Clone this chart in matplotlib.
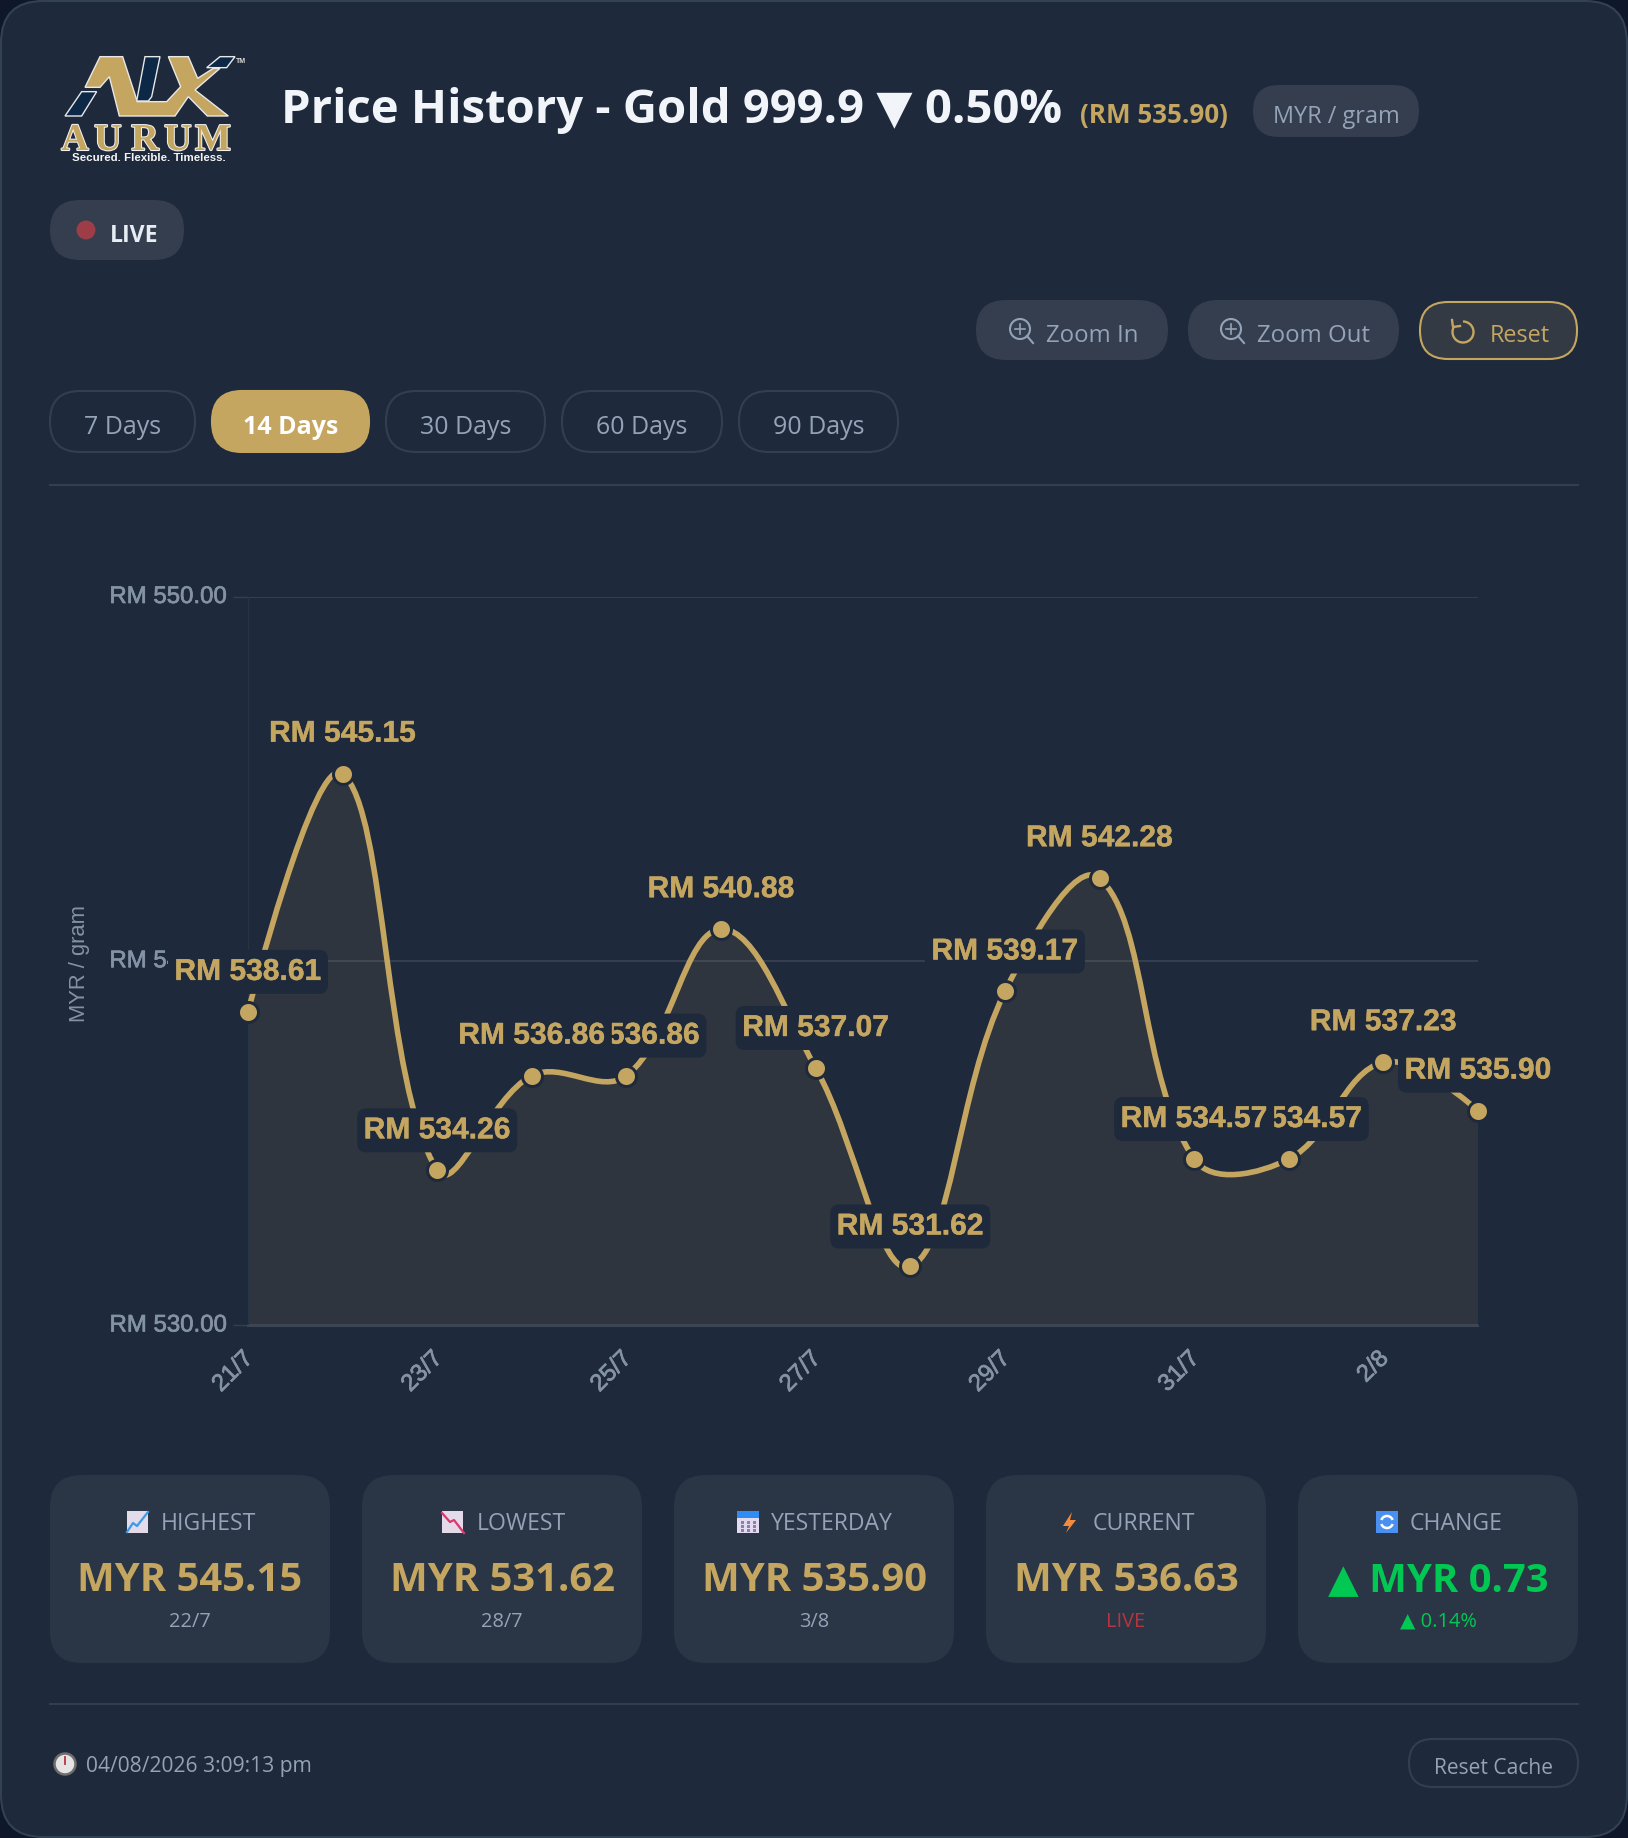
import math
import matplotlib
matplotlib.use("Agg")
import matplotlib.pyplot as plt
import matplotlib.patheffects as pe
import matplotlib.transforms as mtransforms
from matplotlib.patches import FancyBboxPatch, PathPatch, Polygon, Circle, Rectangle, Arc
from matplotlib.path import Path

dates = ["21/7", "22/7", "23/7", "24/7", "25/7", "26/7", "27/7", "28/7", "29/7", "30/7", "31/7", "1/8", "2/8", "3/8"]
prices = [538.61, 545.15, 534.26, 536.86, 536.86, 540.88, 537.07, 531.62, 539.17, 542.28, 534.57, 534.57, 537.23, 535.90]
y_ticks = [530, 540, 550]
tabs = ["7 Days", "14 Days", "30 Days", "60 Days", "90 Days"]
card_titles = ["HIGHEST", "LOWEST", "YESTERDAY", "CURRENT", "CHANGE"]
card_values = ["MYR 545.15", "MYR 531.62", "MYR 535.90", "MYR 536.63", "▲ MYR 0.73"]
card_subs = ["22/7", "28/7", "3/8", "LIVE", "▲ 0.14%"]

BG = "#1e293b"
CORNER = "#0f172a"
PILL = "#343e4f"
CARD = "#2a3545"
GOLD = "#c4a661"
MUTED = "#94a3b8"
AXIS_TEXT = "#8492a6"
WHITE = "#f1f5f9"
GREEN = "#00c853"
RED = "#b8343f"
UI_FONT = ["Open Sans", "DejaVu Sans"]


def px(n):
    return n * 0.72


fig = plt.figure(figsize=(16.28, 18.38), dpi=100, facecolor=CORNER)
ui = fig.add_axes([0, 0, 1, 1], zorder=1)
ui.set_xlim(0, 1628)
ui.set_ylim(1838, 0)
ui.axis("off")


def pill(x0, y0, x1, y1, r, fc, ec="none", lw=0, z=2):
    ui.add_patch(FancyBboxPatch((x0, y0), x1 - x0, y1 - y0, boxstyle=f"round,pad=0,rounding_size={r}",
                                fc=fc, ec=ec, lw=lw, zorder=z))


def label(x, y, s, size, color=MUTED, weight="normal", ha="center"):
    return ui.text(x, y, s, fontsize=px(size), color=color, fontweight=weight, ha=ha, va="baseline",
                   family=UI_FONT, zorder=5)


# panel
pill(1, 1, 1627, 1837, 42, BG, ec="#334155", lw=1.5, z=0)

# logo, drawn from rough outlines
def zoom_pts(pts):
    return [(x / 3 + 50, y / 3 + 45) for x, y in pts]


gold_shape = [(150, 35), (218, 35), (262, 170), (350, 170), (392, 125), (355, 35), (415, 35), (443, 100), (490, 70),
              (510, 70), (435, 135), (535, 213), (472, 213), (415, 155), (375, 213), (208, 213), (178, 95), (150, 127),
              (105, 127)]
navy_shapes = [[(285, 35), (330, 35), (305, 155), (295, 168), (260, 168)],
               [(95, 140), (140, 140), (95, 213), (45, 213)],
               [(510, 35), (555, 35), (530, 68), (470, 68)]]
ui.add_patch(Polygon(zoom_pts(gold_shape), fc=GOLD, ec="#e8e8e8", lw=1, zorder=3))
for shape in navy_shapes:
    ui.add_patch(Polygon(zoom_pts(shape), fc="#0d2847", ec="#e8e8e8", lw=1, zorder=3))
for letter, lx in zip("AURUM", [75, 108, 145, 178, 213]):
    ui.text(lx, 150, letter, fontsize=px(38), color=GOLD, fontweight="bold", family="Liberation Serif", ha="center",
            va="baseline", zorder=4, path_effects=[pe.withStroke(linewidth=1.5, foreground="#f0f0f0")])
ui.text(149, 161, "Secured. Flexible. Timeless.", fontsize=px(11.5), color="#f4f4f4", family="Liberation Sans", ha="center",
        va="baseline", fontweight="bold", zorder=4)
ui.text(241, 63, "TM", fontsize=px(7), color="#dddddd", family="Liberation Sans", ha="center", va="baseline", fontweight="bold", zorder=4)

# header
label(281, 123, "Price History - Gold 999.9 ▼ 0.50%", 47.3, WHITE, "bold", ha="left")
label(1080, 123, "(RM 535.90)", 26, GOLD, "bold", ha="left")
pill(1253, 85, 1419, 137, 26, PILL)
label(1336, 123, "MYR / gram", 23.5)

# live badge
pill(50, 200, 184, 260, 30, PILL)
ui.add_patch(Circle((86, 230), 9.5, fc="#9c3d47", ec="none", zorder=4))
label(110, 242, "LIVE", 23, "#e8edf3", "bold", ha="left")

# zoom buttons
pill(976, 300, 1168, 360, 30, PILL)
pill(1188, 300, 1399, 360, 30, PILL)
pill(1420, 302, 1577, 359, 28, "#333a44", ec=GOLD, lw=1.5)
label(1046, 342, "Zoom In", 24, ha="left")
label(1257, 342, "Zoom Out", 24, ha="left")
label(1490, 342, "Reset", 23.5, GOLD, ha="left")
for cx in [1020, 1231]:
    ui.add_patch(Circle((cx, 329), 10, fc="none", ec=MUTED, lw=1.5, zorder=4))
    ui.plot([cx + 7, cx + 13], [336, 343], color=MUTED, lw=1.5, zorder=4)
    ui.plot([cx - 5, cx + 5], [329, 329], color=MUTED, lw=1.2, zorder=4)
    ui.plot([cx, cx], [324, 334], color=MUTED, lw=1.2, zorder=4)
ui.add_patch(Arc((1463, 332), 21, 21, theta1=-90, theta2=215, color=GOLD, lw=1.7, zorder=4))
ui.plot([1452, 1453, 1460], [320, 327, 326], color=GOLD, lw=1.7, zorder=4)

# range tabs
tab_edges = [(50, 195), (212, 369), (386, 545), (562, 722), (739, 898)]
for name, (x0, x1) in zip(tabs, tab_edges):
    active = name == "14 Days"
    pill(x0, 391, x1, 452, 30, GOLD if active else BG, ec=GOLD if active else PILL, lw=1.5)
    label((x0 + x1) / 2, 434, name, 25, "#ffffff" if active else MUTED, "bold" if active else "normal")
ui.plot([50, 1578], [485, 485], color=PILL, lw=1.5, zorder=1)

# chart
ax = fig.add_axes([248 / 1628, 1 - 1325.5 / 1838, (1478 - 248) / 1628, (1325.5 - 597) / 1838], zorder=2)
ax.set_facecolor("none")
xs = list(range(len(prices)))
ax.set_xlim(0, len(prices) - 1)
ax.set_ylim(y_ticks[0], y_ticks[-1])

# smooth curve: control arms split by the on-screen length of the two segments
sx = 1230 / (len(prices) - 1)
sy = 728.5 / (y_ticks[-1] - y_ticks[0])
smooth = 0.38
arm_in = [(0, 0)] * len(prices)
arm_out = [(0, 0)] * len(prices)
for i in range(1, len(prices) - 1):
    vx = xs[i + 1] - xs[i - 1]
    vy = prices[i + 1] - prices[i - 1]
    len_prev = math.hypot((xs[i] - xs[i - 1]) * sx, (prices[i] - prices[i - 1]) * sy)
    len_next = math.hypot((xs[i + 1] - xs[i]) * sx, (prices[i + 1] - prices[i]) * sy)
    ratio = len_next / (len_prev + len_next)
    arm_out[i] = (vx * smooth * ratio, vy * smooth * ratio)
    arm_in[i] = (vx * smooth * (1 - ratio), vy * smooth * (1 - ratio))

verts = [(xs[0], prices[0])]
codes = [Path.MOVETO]
for i in range(len(prices) - 1):
    c1 = (xs[i] + arm_out[i][0], prices[i] + arm_out[i][1])
    c2 = (xs[i + 1] - arm_in[i + 1][0], prices[i + 1] - arm_in[i + 1][1])
    verts += [c1, c2, (xs[i + 1], prices[i + 1])]
    codes += [Path.CURVE4] * 3
area = verts + [(xs[-1], y_ticks[0]), (xs[0], y_ticks[0]), (xs[0], prices[0])]
area_codes = codes + [Path.LINETO, Path.LINETO, Path.CLOSEPOLY]
ax.add_patch(PathPatch(Path(area, area_codes), fc=GOLD, alpha=0.1, ec="none", zorder=1))
ax.add_patch(PathPatch(Path(verts, codes), fc="none", ec=GOLD, lw=px(5.6), zorder=3, clip_on=False))
ax.plot(xs, prices, ls="none", marker="o", ms=px(20), mfc=GOLD, mec=BG, mew=px(3), zorder=4, clip_on=False)

heavier = [pe.withStroke(linewidth=0.5, foreground=AXIS_TEXT)]
ax.set_yticks(y_ticks, [f"RM {t:.2f}" for t in y_ticks], family="Liberation Sans", fontsize=px(24), color=AXIS_TEXT)
ax.set_xticks(xs[::2], dates[::2], family="Liberation Sans", fontsize=px(24), color=AXIS_TEXT, rotation=45, ha="right",
              rotation_mode="anchor")
ax.tick_params(axis="y", length=px(15), width=1, color=PILL, pad=px(6))
ax.tick_params(axis="x", length=0, pad=px(22))
tick_shift = mtransforms.ScaledTranslation(-6 / 100, 0, fig.dpi_scale_trans)
for lbl in ax.get_xticklabels():
    lbl.set_transform(lbl.get_transform() + tick_shift)
    lbl.set_path_effects(heavier)
raise_y = mtransforms.ScaledTranslation(0, 2.5 / 100, fig.dpi_scale_trans)
for lbl in ax.get_yticklabels():
    lbl.set_transform(lbl.get_transform() + raise_y)
    lbl.set_path_effects(heavier)
ax.grid(axis="y", color=PILL, lw=1.5, zorder=0)
for side in ["top", "right"]:
    ax.spines[side].set_visible(False)
ax.spines["left"].set_color("#273446")
ax.spines["bottom"].set_color("#3a4658")
ax.spines["bottom"].set_linewidth(1.5)
ax.set_axisbelow(True)
fig.text(80 / 1628, 1 - 963 / 1838, "MYR / gram", rotation=90, family="Liberation Sans", fontsize=px(22), color=AXIS_TEXT,
         ha="center", va="center")

# value labels, earlier ones sit on top of later ones
for i, (x, v) in enumerate(zip(xs, prices)):
    z = 30 - i
    anchor = mtransforms.ScaledTranslation(x, v, ax.transData)
    ax.add_patch(FancyBboxPatch((-80, 18), 160, 44, boxstyle="round,pad=0,rounding_size=9", fc=BG, ec="none",
                                transform=anchor, clip_on=False, zorder=z))
    ax.annotate(f"RM {v:.2f}", (x, v), xytext=(0, px(40)), textcoords="offset points", ha="center", va="center",
                family="Liberation Sans", fontweight="bold", fontsize=px(30), color=GOLD, zorder=z, annotation_clip=False,
                path_effects=[pe.withStroke(linewidth=0.3, foreground=GOLD)])

# stat cards
card_edges = [(50, 330), (362, 642), (674, 954), (986, 1266), (1298, 1578)]
title_x = [161, 477, 771, 1093, 1410]
icon_x = [127, 442, 737, 1063, 1376]
for n in range(5):
    x0, x1 = card_edges[n]
    mid = (x0 + x1) / 2
    pill(x0, 1475, x1, 1663, 32, CARD)
    label(title_x[n], 1530, card_titles[n], 23, ha="left")
    value_color = GREEN if card_titles[n] == "CHANGE" else GOLD
    label(mid, 1591, card_values[n], 40, value_color, "bold")
    sub_color = {"LIVE": RED, "▲ 0.14%": GREEN}.get(card_subs[n], MUTED)
    label(mid, 1627, card_subs[n], 20, sub_color)

# card emoji
for n in [0, 1]:
    ui.add_patch(Rectangle((icon_x[n], 1511), 21, 22, fc="#e3dbe9", ec="none", zorder=4))
line_pts = [[(127, 1532), (133, 1523), (137, 1526), (148, 1512)], [(442, 1513), (450, 1522), (454, 1520), (464, 1533)]]
for pts, col in zip(line_pts, ["#3b9be8", "#e0356f"]):
    ui.plot(*zip(*pts), color=col, lw=1.6, zorder=5)
ui.add_patch(Rectangle((737, 1511), 22, 22, fc="#e3dbf0", ec="none", zorder=4))
ui.add_patch(Rectangle((737, 1511), 22, 7, fc="#2f8cf5", ec="none", zorder=5))
for dx in [741, 747, 753]:
    for dy in [1521, 1525, 1529]:
        ui.add_patch(Rectangle((dx, dy), 3, 2.5, fc="#8a7fb0", ec="none", zorder=5))
ui.add_patch(Polygon([(1072, 1512), (1063, 1526), (1069, 1526), (1066, 1533), (1076, 1520), (1070, 1520)], fc="#f58a3c", ec="none", zorder=4))
ui.add_patch(Rectangle((1376, 1511), 22, 22, fc="#4a90f0", ec="none", zorder=4))
ui.add_patch(Arc((1387, 1522), 12, 12, theta1=200, theta2=340, color="white", lw=1.8, zorder=5))
ui.add_patch(Arc((1387, 1522), 12, 12, theta1=20, theta2=160, color="white", lw=1.8, zorder=5))

# footer
ui.plot([50, 1578], [1704, 1704], color=PILL, lw=1.5, zorder=1)
ui.add_patch(Circle((65, 1764), 10.5, fc="#e4e4e4", ec="#6e6e6e", lw=1.8, zorder=4))
ui.plot([65, 65], [1764, 1757], color="#b5344a", lw=1.3, zorder=5)
label(86, 1772, "04/08/2026 3:09:13 pm", 21, ha="left")
pill(1409, 1739, 1578, 1787, 24, BG, ec=PILL, lw=1.5)
label(1494, 1774, "Reset Cache", 21)

fig.savefig("out.png", dpi=100, facecolor=fig.get_facecolor())
